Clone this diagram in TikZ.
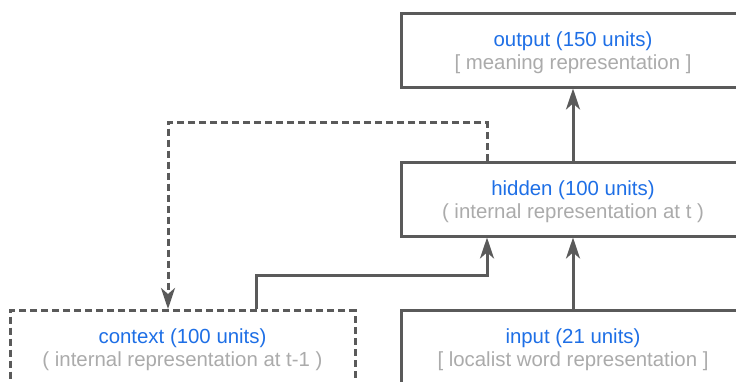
\documentclass[tikz,border=0pt]{standalone}
\usepackage{fontspec}
\setmainfont{Liberation Sans}
\usetikzlibrary{arrows.meta,calc}
\definecolor{linegray}{HTML}{5A5A5A}
\definecolor{titleblue}{HTML}{1E6FE6}
\definecolor{subgray}{HTML}{ABABAB}
\tikzset{
  unitbox/.style={draw=linegray, line width=3pt, minimum width=344pt, minimum height=74pt,
    inner sep=0pt, align=center, font=\fontsize{20.4}{23}\selectfont},
  dashbox/.style={unitbox, dash pattern=on 7pt off 4pt},
  conn/.style={draw=linegray, line width=3pt, -{Stealth[length=21pt,width=14pt,inset=6pt]}},
  dashconn/.style={conn, dash pattern=on 7pt off 4pt},
}
\newcommand{\boxtext}[2]{\raisebox{-3pt}[\height][\depth]{\renewcommand\arraystretch{1}\begin{tabular}{@{}c@{}}\textcolor{titleblue}{#1}\\\textcolor{subgray}{#2}\end{tabular}}}
\begin{document}
\begin{tikzpicture}[x=1pt,y=-1pt]
\useasboundingbox (0,0) rectangle (736,381);
\clip (0,0) rectangle (736,381);
\fill[white] (0,0) rectangle (736,381);
\node[unitbox] (output) at (573,50) {\boxtext{output (150 units)}{[ meaning representation ]}};
\node[unitbox] (hidden) at (573,199) {\boxtext{hidden (100 units)}{( internal representation at t )}};
\node[dashbox, minimum width=345pt] (context) at (182.5,347.5) {\boxtext{context (100 units)}{( internal representation at t-1 )}};
\node[unitbox] (input) at (573,347.5) {\boxtext{input (21 units)}{[ localist word representation ]}};
\draw[conn] (hidden.north) -- (output.south);
\draw[conn] (input.north) -- (hidden.south);
\draw[conn] ([xshift=73.5pt]context.north) -- ++(0,-34) -| ([xshift=-86pt]hidden.south);
\draw[dashconn] ([xshift=-86pt]hidden.north) -- ++(0,-38) -| ([xshift=-14.5pt]context.north);
\end{tikzpicture}
\end{document}
